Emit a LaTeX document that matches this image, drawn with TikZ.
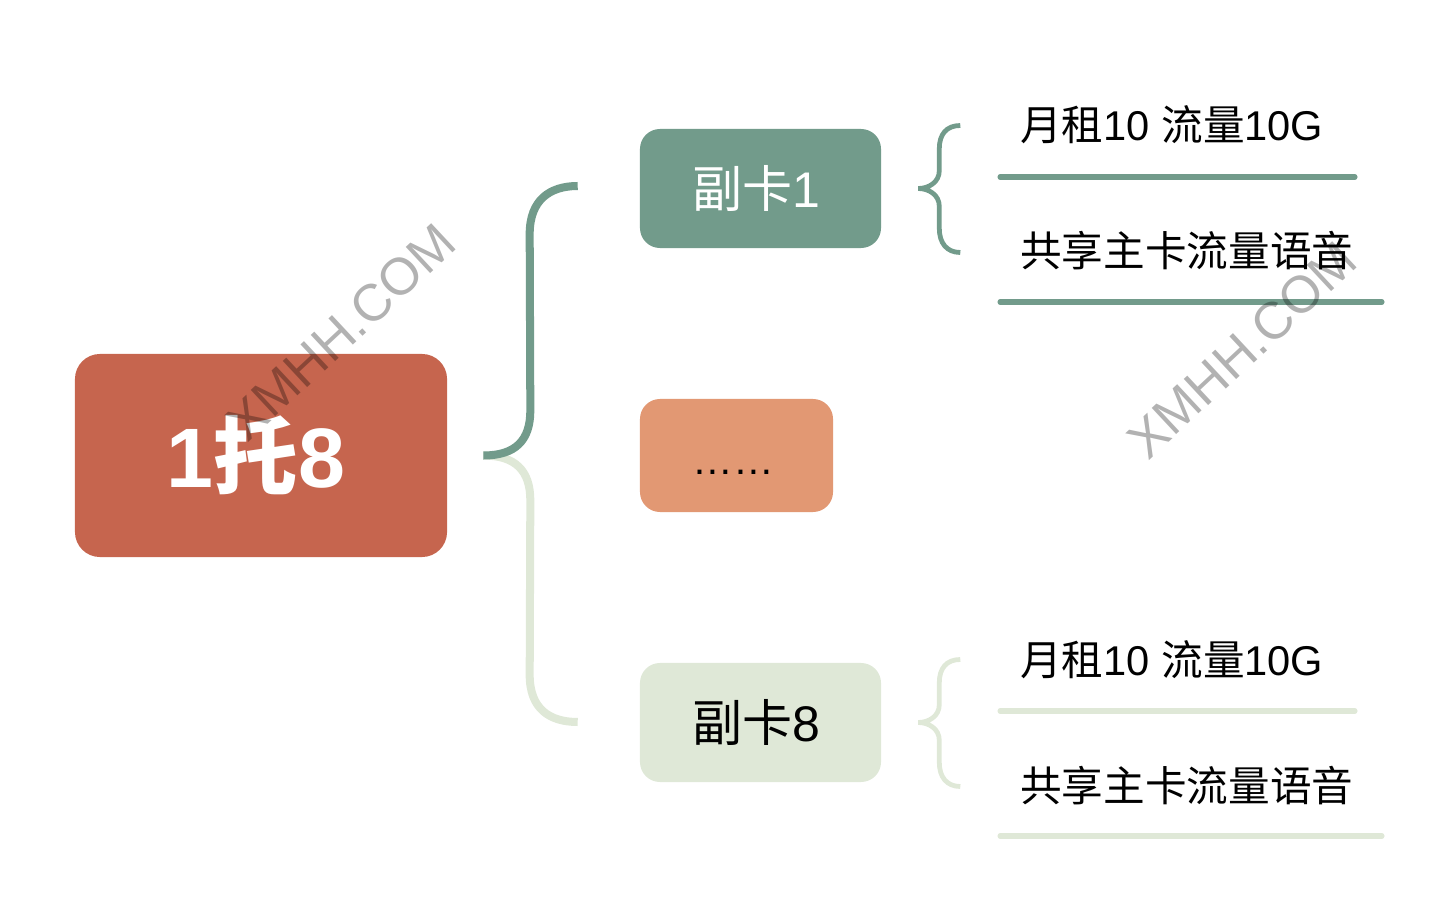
\documentclass[tikz,border=0pt]{standalone}
\usepackage{fontspec}
\setmainfont{Liberation Sans}
\newfontfamily\cjk{Noto Sans CJK SC}
\usetikzlibrary{positioning,calc}
\definecolor{sage}{HTML}{729B8B}
\definecolor{brick}{HTML}{C6654E}
\definecolor{apricot}{HTML}{E29873}
\definecolor{mist}{HTML}{DFE8D7}
\newcommand{\zh}[1]{{\cjk #1}}

\tikzset{
  cardbox/.style={rounded corners=0.5cm, minimum width=6.025cm, minimum height=2.975cm, inner sep=0pt, font=\fontsize{35.6}{38}\selectfont},
  leaftext/.style={anchor=base west, inner sep=0pt, font=\fontsize{29.6}{32}\selectfont},
  trunk/.style={line width=5.7pt},
  twig/.style={line width=3.4pt},
  leafline/.style={line width=3.6pt, line cap=round},
  stamp/.style={text=black, text opacity=0.3, rotate=43, inner sep=0pt, font=\fontsize{37}{40}\selectfont}
}

\begin{document}
\begin{tikzpicture}[x=0.025cm, y=-0.025cm]
        \useasboundingbox (0,0) rectangle (1455,912);

        % root and cards
        \node[fill=brick, rounded corners=0.625cm, minimum width=9.3cm, minimum height=5.075cm, text=white, font=\fontsize{60}{66}\selectfont\bfseries] (root) at (261,455.5) {1\zh{托}8\hspace*{0.25cm}};
        \node[cardbox, fill=sage, text=white] (sub1) at (760.5,188.5) {\zh{副卡}1\hspace*{0.2cm}};
        \node[cardbox, fill=apricot, minimum width=4.825cm, minimum height=2.825cm] (dots) at (736.5,455.5) {{\fontsize{29}{30}\selectfont ……}\vphantom{\zh{副}}\hspace*{0.15cm}};
        \node[cardbox, fill=mist] (sub8) at (760.5,722.5) {\zh{副卡}8\hspace*{0.2cm}};

        % big brace
        \coordinate (hub) at ($(root.east)+(36,0)$);
        \coordinate (end1) at ($(sub1.west)+(-62,-2.5)$);
        \coordinate (end8) at ($(sub8.west)+(-62,-0.5)$);
        \draw[trunk, mist] (hub) .. controls +(32,0) and +(0,-30) .. ($(hub)+(47,45)$) -- ($(end8)+(-48,-47)$) .. controls +(0,34) and +(-28,0) .. (end8);
        \draw[trunk, sage] (hub) .. controls +(32,0) and +(0,30) .. ($(hub)+(47,-45)$) -- ($(end1)+(-48,48)$) .. controls +(0,-34) and +(-28,0) .. (end1);

        % small braces
        \coordinate (b1) at ($(sub1.east)+(37,0)$);
        \coordinate (b8) at ($(sub8.east)+(37,0)$);
        \draw[twig, sage] ($(b1)+(42,-63)$) .. controls +(-14,0) and +(0,-14) .. ($(b1)+(21,-40)$) -- ($(b1)+(21,-18)$) .. controls +(0,12) and +(10,0) .. (b1) .. controls +(10,0) and +(0,-12) .. ($(b1)+(21,18)$) -- ($(b1)+(21,40)$) .. controls +(0,14) and +(-14,0) .. ($(b1)+(42,64)$);
        \draw[twig, mist] ($(b8)+(42,-63)$) .. controls +(-14,0) and +(0,-14) .. ($(b8)+(21,-40)$) -- ($(b8)+(21,-18)$) .. controls +(0,12) and +(10,0) .. (b8) .. controls +(10,0) and +(0,-12) .. ($(b8)+(21,18)$) -- ($(b8)+(21,40)$) .. controls +(0,14) and +(-14,0) .. ($(b8)+(42,64)$);

        % leaves
        \node[leaftext] (fee1) at (1020,141) {\zh{月租}10 \zh{流量}10G};
        \node[leaftext] (voice1) at (1020,267) {\zh{共享主卡流量语音}};
        \node[leaftext] (fee8) at (1020,675) {\zh{月租}10 \zh{流量}10G};
        \node[leaftext] (voice8) at (1020,801) {\zh{共享主卡流量语音}};
        \draw[leafline, sage] ($(fee1.base west)+(-20,36)$) -- ++(355,0);
        \draw[leafline, sage] ($(voice1.base west)+(-20,35)$) -- ++(382,0);
        \draw[leafline, mist] ($(fee8.base west)+(-20,36)$) -- ++(355,0);
        \draw[leafline, mist] ($(voice8.base west)+(-20,35)$) -- ++(382,0);

        % watermarks
        \node[stamp] (wm1) at (341,332) {XMHH.COM};
        \node[stamp] (wm2) at (1242,350) {XMHH.COM};
      \end{tikzpicture}
\end{document}
